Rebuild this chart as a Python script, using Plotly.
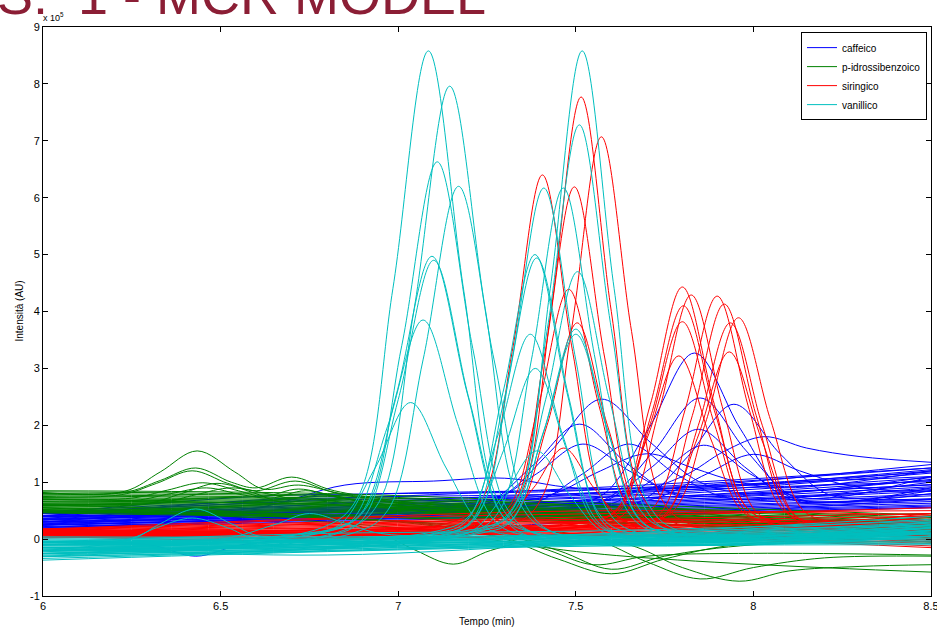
import plotly.graph_objects as go

# ---------------- data (intensity in units of 1e5) ----------------
series_names = ["caffeico", "p-idrossibenzoico", "siringico", "vanillico"]
series_colors = ["#0000FF", "#008000", "#FF0000", "#00BFBF"]

base_x = [6.0, 6.8, 7.6, 8.5]

caffeico_base = [
    (0.48, 0.72, 0.83, 1.31), (0.46, 0.68, 0.79, 1.22), (0.45, 0.64, 0.76, 1.16),
    (0.42, 0.61, 0.74, 1.08), (0.41, 0.58, 0.70, 1.03), (0.39, 0.56, 0.68, 0.96),
    (0.37, 0.54, 0.65, 0.92), (0.36, 0.52, 0.63, 0.87), (0.34, 0.50, 0.61, 0.84),
    (0.33, 0.48, 0.59, 0.79), (0.31, 0.46, 0.57, 0.76), (0.30, 0.44, 0.55, 0.71),
    (0.28, 0.42, 0.53, 0.69), (0.27, 0.40, 0.51, 0.66), (0.25, 0.38, 0.49, 0.63),
    (0.24, 0.36, 0.47, 0.60), (0.22, 0.34, 0.45, 0.58), (0.21, 0.33, 0.43, 0.56),
    (0.19, 0.31, 0.41, 0.55), (0.45, 0.70, 0.92, 1.25), (0.34, 0.55, 0.82, 1.18),
    (0.26, 0.47, 0.70, 0.95), (0.40, 0.76, 0.88, 1.10), (0.30, 0.62, 0.82, 1.01),
]
pidrossi_base = [
    (0.85, 0.80, 0.62, 0.42), (0.83, 0.77, 0.58, 0.38), (0.80, 0.75, 0.57, 0.35),
    (0.78, 0.72, 0.55, 0.33), (0.76, 0.70, 0.52, 0.30), (0.73, 0.68, 0.50, 0.28),
    (0.71, 0.66, 0.49, 0.26), (0.69, 0.64, 0.47, 0.25), (0.67, 0.62, 0.46, 0.22),
    (0.65, 0.61, 0.44, 0.20), (0.63, 0.59, 0.43, 0.18), (0.61, 0.57, 0.41, 0.16),
    (0.59, 0.55, 0.40, 0.14), (0.57, 0.53, 0.38, 0.12), (0.55, 0.51, 0.37, 0.10),
    (0.53, 0.49, 0.35, 0.08), (0.51, 0.47, 0.34, 0.05), (0.49, 0.44, 0.30, 0.02),
    (0.47, 0.41, 0.25, -0.05), (0.46, 0.39, 0.35, 0.30), (0.70, 0.60, 0.40, 0.45),
]
siringico_base = [
    (0.18, 0.30, 0.40, 0.55), (0.17, 0.28, 0.35, 0.45), (0.16, 0.26, 0.32, 0.40),
    (0.15, 0.24, 0.30, 0.35), (0.14, 0.22, 0.28, 0.30), (0.13, 0.20, 0.25, 0.25),
    (0.12, 0.19, 0.24, 0.20), (0.11, 0.17, 0.22, 0.16), (0.10, 0.16, 0.20, 0.12),
    (0.09, 0.15, 0.19, 0.08), (0.08, 0.13, 0.17, 0.05), (0.07, 0.12, 0.15, 0.02),
    (0.06, 0.11, 0.14, -0.02), (0.05, 0.10, 0.12, -0.05), (0.04, 0.09, 0.10, -0.08),
    (0.03, 0.08, 0.08, -0.12), (0.02, 0.07, 0.06, -0.15), (0.14, 0.35, 0.45, 0.50),
    (0.09, 0.27, 0.35, 0.28), (0.17, 0.37, 0.50, 0.42),
]
vanillico_base = [
    (0.04, 0.04, 0.10, 0.40), (0.02, 0.02, 0.08, 0.35), (0.00, 0.00, 0.06, 0.30),
    (-0.02, -0.02, 0.05, 0.28), (-0.04, -0.04, 0.04, 0.25), (-0.06, -0.05, 0.03, 0.22),
    (-0.08, -0.06, 0.02, 0.20), (-0.10, -0.08, 0.00, 0.18), (-0.12, -0.09, -0.01, 0.15),
    (-0.14, -0.10, -0.02, 0.12), (-0.16, -0.12, -0.03, 0.10), (-0.18, -0.13, -0.04, 0.08),
    (-0.20, -0.14, -0.05, 0.05), (-0.22, -0.15, -0.06, 0.02), (-0.25, -0.17, -0.07, 0.00),
    (-0.28, -0.18, -0.08, -0.03), (-0.31, -0.20, -0.09, -0.05), (-0.34, -0.21, -0.10, -0.08),
    (-0.37, -0.22, -0.12, -0.10), (-0.15, -0.28, -0.05, 0.15), (-0.05, 0.10, 0.15, 0.32),
    (-0.26, -0.10, 0.10, 0.25),
]

# peak profiles: (knot times, knot intensities)
caffeico_peaks = [
    ([6.0, 7.444, 7.574, 7.704, 7.834, 7.964, 8.094, 8.224, 8.5], [0.30, 0.60, 0.77, 1.93, 3.27, 1.93, 0.77, 0.65, 0.80]),
    ([6.0, 7.46, 7.59, 7.72, 7.85, 7.98, 8.11, 8.24, 8.5], [0.40, 0.60, 0.72, 1.55, 2.48, 1.55, 0.75, 0.65, 0.90]),
    ([6.0, 7.555, 7.685, 7.815, 7.945, 8.075, 8.205, 8.335, 8.5], [0.25, 0.55, 0.67, 1.45, 2.37, 1.50, 0.80, 0.70, 0.70]),
    ([6.0, 7.455, 7.585, 7.715, 7.845, 7.975, 8.105, 8.235, 8.5], [0.35, 0.60, 0.68, 1.27, 1.93, 1.27, 0.70, 0.65, 0.85]),
    ([6.0, 7.6, 7.8, 7.92, 8.03, 8.15, 8.3, 8.5], [0.40, 0.75, 1.10, 1.55, 1.80, 1.60, 1.45, 1.35]),
    ([6.0, 7.47, 7.6, 7.73, 7.86, 7.99, 8.12, 8.25, 8.5], [0.30, 0.55, 0.62, 1.10, 1.65, 1.15, 0.75, 0.75, 1.10]),
    ([6.0, 7.26, 7.39, 7.52, 7.65, 7.78, 7.91, 8.04, 8.5], [0.45, 0.55, 0.65, 1.15, 1.67, 1.15, 0.75, 0.70, 1.00]),
    ([6.0, 7.15, 7.29, 7.43, 7.572, 7.71, 7.85, 7.99, 8.5], [0.40, 0.60, 0.75, 1.55, 2.46, 1.70, 1.00, 0.80, 1.10]),
    ([6.0, 7.12, 7.25, 7.38, 7.51, 7.64, 7.77, 7.9, 8.5], [0.25, 0.50, 0.62, 1.30, 2.02, 1.35, 0.80, 0.70, 0.90]),
    ([6.0, 7.13, 7.26, 7.39, 7.52, 7.65, 7.78, 7.91, 8.5], [0.35, 0.55, 0.65, 1.15, 1.67, 1.20, 0.80, 0.75, 1.05]),
    ([6.0, 7.61, 7.74, 7.87, 8.0, 8.13, 8.26, 8.39, 8.5], [0.20, 0.60, 0.75, 1.15, 1.49, 1.20, 0.95, 0.85, 0.85]),
    ([6.0, 7.31, 7.44, 7.57, 7.7, 7.83, 7.96, 8.09, 8.5], [0.45, 0.65, 0.80, 1.20, 1.50, 1.25, 1.00, 0.90, 1.20]),
    ([6.0, 6.6, 6.85, 7.1, 7.3, 7.5, 8.0, 8.5], [0.40, 0.55, 0.95, 1.02, 1.07, 0.90, 0.95, 1.20]),
    ([6.0, 6.6, 7.0, 7.5, 8.5], [0.45, 0.75, 0.80, 0.85, 1.25]),
    ([6.0, 6.3, 6.43, 6.56, 7.0, 8.5], [-0.05, -0.10, -0.30, -0.10, 0.10, 0.70]),
]
pidrossi_peaks = [
    ([6.0, 6.23, 6.33, 6.434, 6.54, 6.62, 6.72, 6.84, 7.2, 8.5], [0.82, 0.84, 1.18, 1.55, 1.18, 0.88, 0.95, 0.80, 0.50, 0.20]),
    ([6.0, 6.23, 6.33, 6.43, 6.53, 6.6, 6.70, 6.82, 7.2, 8.5], [0.80, 0.82, 1.03, 1.25, 1.00, 0.90, 1.09, 0.85, 0.55, 0.25]),
    ([6.0, 6.22, 6.32, 6.42, 6.52, 6.6, 6.71, 6.83, 7.2, 8.5], [0.75, 0.78, 0.98, 1.20, 0.98, 0.85, 1.02, 0.80, 0.50, 0.15]),
    ([6.0, 6.25, 6.35, 6.45, 6.55, 6.62, 6.72, 6.84, 7.2, 8.5], [0.70, 0.72, 0.86, 0.99, 0.85, 0.75, 0.88, 0.72, 0.45, 0.10]),
    ([6.0, 6.26, 6.36, 6.46, 6.56, 6.64, 6.74, 6.86, 7.2, 8.5], [0.66, 0.68, 0.80, 0.90, 0.78, 0.72, 0.85, 0.70, 0.48, 0.30]),
    ([6.0, 6.29, 6.39, 6.49, 6.59, 6.67, 6.77, 6.89, 7.2, 8.5], [0.60, 0.62, 0.80, 0.98, 0.82, 0.65, 0.70, 0.60, 0.42, 0.05]),
    ([6.0, 6.33, 6.43, 6.53, 6.63, 6.7, 6.8, 6.92, 7.2, 8.5], [0.62, 0.64, 0.78, 0.90, 0.80, 0.72, 0.78, 0.62, 0.40, 0.15]),
    ([6.0, 6.8, 6.95, 7.05, 7.155, 7.26, 7.4, 8.0, 8.5], [0.60, 0.35, 0.10, -0.20, -0.44, -0.20, 0.00, 0.05, 0.10]),
    ([6.0, 7.0, 7.3, 7.45, 7.6, 7.75, 7.95, 8.5], [0.50, 0.30, 0.00, -0.35, -0.61, -0.35, -0.10, 0.00]),
    ([6.0, 7.2, 7.55, 7.7, 7.85, 8.0, 8.2, 8.5], [0.55, 0.30, 0.00, -0.40, -0.70, -0.50, -0.33, -0.30]),
    ([6.0, 7.3, 7.65, 7.8, 7.96, 8.1, 8.3, 8.5], [0.50, 0.20, -0.10, -0.50, -0.74, -0.56, -0.48, -0.45]),
    ([6.0, 7.0, 7.58, 8.5], [0.55, 0.20, -0.27, -0.58]),
    ([6.0, 7.1, 7.4, 7.55, 7.7, 8.0, 8.5], [0.52, 0.25, -0.15, -0.45, -0.30, -0.25, -0.28]),
    ([6.0, 7.2, 7.45, 7.6, 7.75, 8.0, 8.5], [0.48, 0.20, -0.20, -0.53, -0.30, -0.10, -0.05]),
]
siringico_peaks = [
    ([6.0, 7.151, 7.236, 7.321, 7.406, 7.491, 7.576, 7.661, 8.5], [0.15, 0.30, 0.70, 3.30, 6.40, 3.30, 0.70, 0.25, 0.20]),
    ([6.0, 7.241, 7.326, 7.411, 7.496, 7.581, 7.666, 7.751, 8.5], [0.10, 0.25, 0.62, 3.20, 6.19, 3.20, 0.62, 0.20, 0.10]),
    ([6.0, 7.26, 7.345, 7.43, 7.515, 7.6, 7.685, 7.77, 8.5], [0.18, 0.30, 0.78, 4.00, 7.77, 4.00, 0.78, 0.30, 0.30]),
    ([6.0, 7.317, 7.402, 7.487, 7.572, 7.657, 7.742, 7.827, 8.5], [0.05, 0.25, 0.70, 3.65, 7.07, 3.65, 0.70, 0.25, 0.00]),
    ([6.0, 7.225, 7.31, 7.395, 7.48, 7.565, 7.65, 7.735, 8.5], [0.12, 0.30, 0.55, 2.35, 4.39, 2.35, 0.55, 0.25, 0.35]),
    ([6.0, 7.249, 7.334, 7.419, 7.504, 7.589, 7.674, 7.759, 8.5], [0.16, 0.25, 0.48, 2.00, 3.80, 2.00, 0.48, 0.20, 0.15]),
    ([6.0, 7.211, 7.296, 7.381, 7.466, 7.551, 7.636, 7.721, 8.5], [0.08, 0.25, 0.33, 0.90, 1.60, 0.90, 0.33, 0.20, 0.25]),
    ([6.0, 7.53, 7.62, 7.71, 7.8, 7.89, 7.98, 8.07, 8.5], [0.15, 0.30, 0.56, 2.37, 4.43, 2.37, 0.56, 0.30, 0.30]),
    ([6.0, 7.555, 7.645, 7.735, 7.825, 7.915, 8.005, 8.095, 8.5], [0.10, 0.25, 0.50, 2.27, 4.29, 2.27, 0.50, 0.25, 0.20]),
    ([6.0, 7.628, 7.718, 7.808, 7.898, 7.988, 8.078, 8.168, 8.5], [0.17, 0.30, 0.55, 2.28, 4.27, 2.28, 0.55, 0.30, 0.40]),
    ([6.0, 7.648, 7.738, 7.828, 7.918, 8.008, 8.098, 8.188, 8.5], [0.05, 0.20, 0.45, 2.17, 4.13, 2.17, 0.45, 0.20, 0.10]),
    ([6.0, 7.688, 7.778, 7.868, 7.958, 8.048, 8.138, 8.228, 8.5], [0.15, 0.30, 0.52, 2.10, 3.89, 2.10, 0.52, 0.30, 0.35]),
    ([6.0, 7.533, 7.623, 7.713, 7.803, 7.893, 7.983, 8.073, 8.5], [0.17, 0.30, 0.54, 2.20, 4.10, 2.20, 0.54, 0.30, 0.25]),
    ([6.0, 7.53, 7.62, 7.71, 7.8, 7.89, 7.98, 8.07, 8.5], [0.10, 0.25, 0.47, 2.03, 3.82, 2.03, 0.47, 0.25, 0.15]),
    ([6.0, 7.662, 7.752, 7.842, 7.932, 8.022, 8.112, 8.202, 8.5], [0.12, 0.25, 0.44, 1.77, 3.29, 1.77, 0.44, 0.25, 0.30]),
    ([6.0, 7.52, 7.61, 7.7, 7.79, 7.88, 7.97, 8.06, 8.5], [0.16, 0.30, 0.48, 1.76, 3.22, 1.76, 0.48, 0.30, 0.45]),
    ([6.0, 7.665, 7.755, 7.845, 7.935, 8.025, 8.115, 8.205, 8.5], [0.08, 0.20, 0.43, 2.00, 3.80, 2.00, 0.43, 0.20, 0.05]),
]
vanillico_peaks = [
    ([6.0, 6.785, 6.885, 6.985, 7.085, 7.185, 7.285, 7.385, 8.5], [-0.15, 0.20, 0.72, 4.40, 8.58, 4.35, 0.63, 0.10, 0.15]),
    ([6.0, 6.845, 6.945, 7.045, 7.145, 7.245, 7.345, 7.445, 8.5], [-0.20, 0.15, 0.64, 4.05, 7.96, 4.05, 0.60, 0.10, 0.20]),
    ([6.0, 6.81, 6.91, 7.01, 7.11, 7.21, 7.31, 7.41, 8.5], [-0.10, 0.15, 0.55, 3.40, 6.63, 3.35, 0.50, 0.05, 0.10]),
    ([6.0, 6.87, 6.97, 7.07, 7.17, 7.27, 7.37, 7.47, 8.5], [-0.25, 0.10, 0.50, 3.15, 6.20, 3.15, 0.48, 0.05, 0.05]),
    ([6.0, 6.795, 6.895, 6.995, 7.095, 7.195, 7.295, 7.395, 8.5], [-0.05, 0.15, 0.45, 2.55, 4.97, 2.55, 0.40, 0.10, 0.20]),
    ([6.0, 6.8, 6.9, 7.0, 7.1, 7.2, 7.3, 7.4, 8.5], [-0.30, 0.05, 0.35, 2.45, 4.90, 2.45, 0.35, 0.00, 0.05]),
    ([6.0, 6.77, 6.87, 6.97, 7.07, 7.17, 7.27, 7.37, 8.5], [-0.20, 0.10, 0.33, 1.98, 3.85, 1.98, 0.33, 0.05, 0.15]),
    ([6.0, 6.735, 6.835, 6.935, 7.035, 7.135, 7.235, 7.335, 8.5], [-0.10, 0.10, 0.25, 1.25, 2.40, 1.25, 0.25, 0.05, 0.10]),
    ([6.0, 7.248, 7.338, 7.428, 7.518, 7.608, 7.698, 7.788, 8.5], [-0.05, 0.20, 0.72, 4.40, 8.58, 4.40, 0.70, 0.15, 0.20]),
    ([6.0, 7.24, 7.33, 7.42, 7.51, 7.6, 7.69, 7.78, 8.5], [-0.20, 0.15, 0.60, 3.70, 7.28, 3.70, 0.60, 0.10, 0.15]),
    ([6.0, 7.14, 7.23, 7.32, 7.41, 7.5, 7.59, 7.68, 8.5], [-0.15, 0.10, 0.50, 3.15, 6.17, 3.15, 0.50, 0.10, 0.10]),
    ([6.0, 7.195, 7.285, 7.375, 7.465, 7.555, 7.645, 7.735, 8.5], [-0.25, 0.10, 0.50, 3.15, 6.17, 3.15, 0.50, 0.10, 0.20]),
    ([6.0, 7.115, 7.205, 7.295, 7.385, 7.475, 7.565, 7.655, 8.5], [-0.10, 0.15, 0.45, 2.58, 5.00, 2.58, 0.45, 0.10, 0.25]),
    ([6.0, 7.12, 7.21, 7.3, 7.39, 7.48, 7.57, 7.66, 8.5], [-0.30, 0.05, 0.35, 2.50, 4.94, 2.50, 0.35, 0.00, 0.05]),
    ([6.0, 7.235, 7.325, 7.415, 7.505, 7.595, 7.685, 7.775, 8.5], [-0.05, 0.20, 0.48, 2.45, 4.70, 2.45, 0.48, 0.15, 0.30]),
    ([6.0, 7.102, 7.192, 7.282, 7.372, 7.462, 7.552, 7.642, 8.5], [-0.20, 0.10, 0.32, 1.85, 3.60, 1.85, 0.32, 0.05, 0.10]),
    ([6.0, 7.23, 7.32, 7.41, 7.5, 7.59, 7.68, 7.77, 8.5], [-0.15, 0.10, 0.33, 1.90, 3.69, 1.90, 0.33, 0.10, 0.20]),
    ([6.0, 7.116, 7.206, 7.296, 7.386, 7.476, 7.566, 7.656, 8.5], [-0.10, 0.10, 0.28, 1.55, 3.00, 1.55, 0.28, 0.05, 0.15]),
    ([6.0, 7.12, 7.21, 7.3, 7.39, 7.48, 7.57, 7.66, 8.5], [-0.25, 0.05, 0.15, 0.80, 1.55, 0.80, 0.15, 0.00, 0.05]),
    ([6.0, 7.23, 7.32, 7.41, 7.5, 7.59, 7.68, 7.77, 8.5], [-0.10, 0.15, 0.35, 1.90, 3.60, 1.90, 0.35, 0.10, 0.25]),
    ([6.0, 6.25, 6.33, 6.43, 6.53, 6.61, 7.0, 8.5], [-0.20, 0.00, 0.27, 0.53, 0.27, 0.05, 0.00, 0.10]),
    ([6.0, 6.24, 6.32, 6.42, 6.52, 6.6, 7.0, 8.5], [-0.10, 0.00, 0.20, 0.37, 0.20, 0.00, -0.05, 0.05]),
    ([6.0, 6.5, 6.65, 6.75, 6.85, 6.95, 7.3, 8.5], [-0.05, 0.00, 0.25, 0.45, 0.28, 0.10, 0.05, 0.10]),
]

x_ticks = [6, 6.5, 7, 7.5, 8, 8.5]
x_tick_text = ["6", "6.5", "7", "7.5", "8", "8.5"]
y_ticks = [-1, 0, 1, 2, 3, 4, 5, 6, 7, 8, 9]
y_tick_text = ["-1", "0", "1", "2", "3", "4", "5", "6", "7", "8", "9"]

# ---------------- figure ----------------
FONT = "Liberation Sans, Arial, Helvetica, sans-serif"
fig = go.Figure()

all_base = [caffeico_base, pidrossi_base, siringico_base, vanillico_base]
all_peaks = [caffeico_peaks, pidrossi_peaks, siringico_peaks, vanillico_peaks]

for name, color, bases, peaks in zip(series_names, series_colors, all_base, all_peaks):
    first = True
    for row in bases:
        fig.add_trace(go.Scatter(
            x=base_x, y=list(row), mode="lines", name=name, legendgroup=name,
            showlegend=first, hoverinfo="skip",
            line=dict(color=color, width=1, shape="spline", smoothing=1.0)))
        first = False
    for xs, ys in peaks:
        fig.add_trace(go.Scatter(
            x=xs, y=ys, mode="lines", name=name, legendgroup=name,
            showlegend=False, hoverinfo="skip",
            line=dict(color=color, width=1, shape="spline", smoothing=1.0)))

axis_common = dict(
    showgrid=False, zeroline=False, showline=True, linecolor="black", linewidth=1,
    mirror="ticks", ticks="inside", ticklen=5, tickcolor="black", tickwidth=1,
    ticklabeloverflow="allow", automargin=False,
    tickfont=dict(family=FONT, size=11, color="black"),
)

NB = "\u00a0"
title_text = "S:" + NB * 2 + "1" + NB + "- MCR MODEL"

fig.update_layout(
    width=937, height=631,
    margin=dict(l=43, r=6, t=27, b=35, autoexpand=False),
    paper_bgcolor="white", plot_bgcolor="white",
    font=dict(family=FONT, color="black"),
    xaxis=dict(range=[6, 8.5], tickvals=x_ticks, ticktext=x_tick_text, **axis_common),
    yaxis=dict(range=[-1, 9], tickvals=y_ticks, ticktext=y_tick_text, **axis_common),
    legend=dict(
        x=0.9955, y=0.991, xanchor="right", yanchor="top",
        bgcolor="white", bordercolor="black", borderwidth=1,
        font=dict(family=FONT, size=10, color="black"),
        itemwidth=30, tracegroupgap=0,
    ),
    showlegend=True,
    annotations=[
        dict(text="Tempo (min)", xref="paper", yref="paper", x=0.5, y=-0.031,
             xanchor="center", yanchor="top", showarrow=False,
             font=dict(family=FONT, size=10, color="black")),
        dict(text="Intensità (AU)", xref="paper", yref="paper", x=-0.027, y=0.5,
             xanchor="center", yanchor="middle", textangle=-90, showarrow=False,
             font=dict(family=FONT, size=10, color="black")),
        dict(text="x 10<sup>5</sup>", xref="paper", yref="paper", x=-0.002, y=1.004,
             xanchor="left", yanchor="bottom", showarrow=False,
             font=dict(family=FONT, size=9, color="black")),
        dict(text=title_text, xref="paper", yref="paper", x=0.501, y=1.0555,
             xanchor="right", yanchor="middle", showarrow=False,
             font=dict(family=FONT, size=54, color="#8B1E35")),
    ],
)

fig.write_html("out.html")
